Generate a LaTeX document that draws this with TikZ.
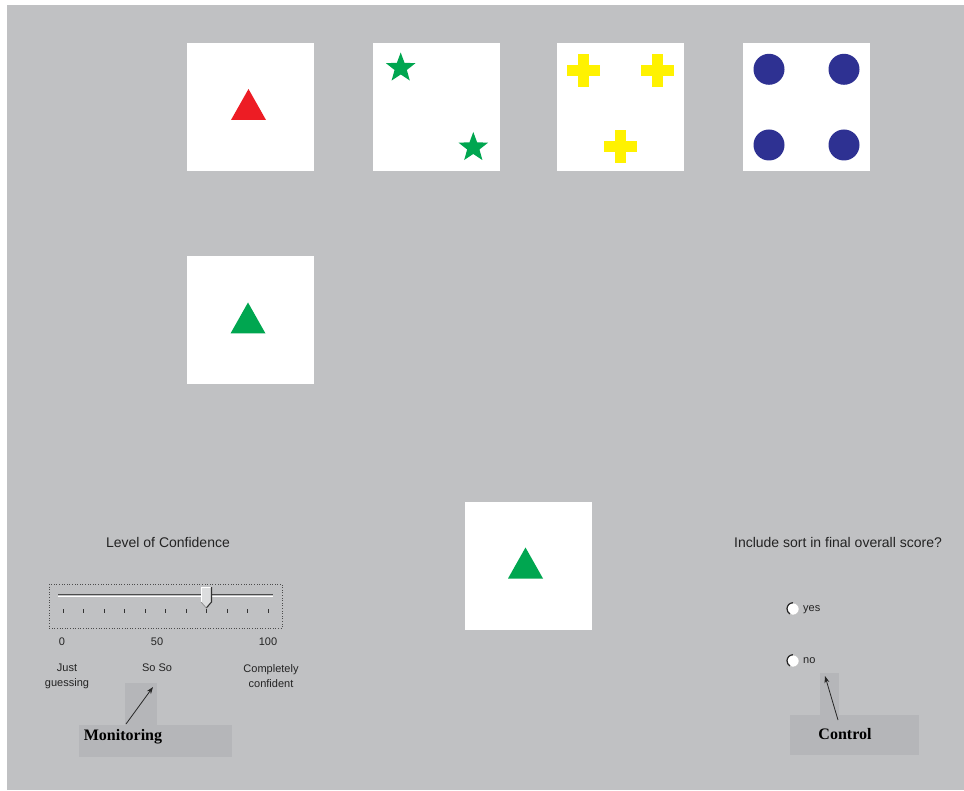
\documentclass[tikz,border=0pt]{standalone}
\usepackage{fontspec}
\setmainfont{Liberation Sans}
\newfontfamily\boldserif{Liberation Serif}
\usetikzlibrary{shapes.geometric,arrows.meta}
\definecolor{bggray}{RGB}{192,193,195}
\definecolor{hlgray}{RGB}{181,182,185}
\definecolor{cardred}{RGB}{237,28,36}
\definecolor{cardgreen}{RGB}{0,166,80}
\definecolor{cardyellow}{RGB}{255,242,0}
\definecolor{cardblue}{RGB}{46,49,146}
\definecolor{txtgray}{RGB}{35,35,35}
\tikzset{
  card/.style={rectangle,fill=white,draw=none,minimum width=127pt,minimum height=128pt,inner sep=0pt},
  starshape/.style={star,star points=5,star point ratio=2.4,fill=cardgreen,draw=none,minimum size=31pt,inner sep=0pt},
  dotshape/.style={circle,fill=cardblue,draw=none,minimum size=31pt,inner sep=0pt},
  lbl/.style={font=\fontsize{14}{16}\selectfont,text=txtgray,inner sep=0pt},
  small/.style={font=\fontsize{11}{15}\selectfont,text=txtgray,inner sep=0pt,align=center},
  hlbox/.style={fill=hlgray,draw=none},
  radio/.style={circle,fill=white,draw=black!25,line width=0.5pt,minimum size=12pt,inner sep=0pt},
  callout/.style={font=\boldserif\bfseries\fontsize{16}{18}\selectfont,text=black,inner sep=0pt},
  pointer/.style={-{Stealth[length=7pt,width=5pt]},line width=0.8pt,draw=black!85},
}
\newcommand{\mycross}[2]{%
  \fill[cardyellow] (#1-16.5,#2-5.5) rectangle (#1+16.5,#2+5.5);
  \fill[cardyellow] (#1-5.5,#2-16.5) rectangle (#1+5.5,#2+16.5);}
\newcommand{\mytri}[3]{%
  \fill[#3] (#1-17.5,#2+15.5) -- (#1,#2-15.5) -- (#1+17.5,#2+15.5) -- cycle;}
\begin{document}
\begin{tikzpicture}[x=1pt,y=-1pt]
\useasboundingbox (0,0) rectangle (964,791);
\fill[white] (0,0) rectangle (964,791);
\fill[bggray] (7,5) rectangle (964,790);

% cards
\node[card] (c1) at (250,107) {};
\node[card] (c2) at (436,107) {};
\node[card] (c3) at (620,107) {};
\node[card] (c4) at (806,107) {};
\node[card] (c5) at (250,320) {};
\node[card] (c6) at (528,566) {};

% card contents
\mytri{248.5}{104.5}{cardred}
\node[starshape] (s1) at (400.7,68) {};
\node[starshape] (s2) at (473.3,147.5) {};
\mycross{583.3}{71}
\mycross{657.7}{71}
\mycross{620}{146.7}
\node[dotshape] (d1) at (769,69.3) {};
\node[dotshape] (d2) at (844,69.3) {};
\node[dotshape] (d3) at (769,145) {};
\node[dotshape] (d4) at (844,145) {};
\mytri{248}{318}{cardgreen}
\mytri{525.5}{563}{cardgreen}

% highlight boxes
\fill[hlgray] (125,683) rectangle (157,726);
\fill[hlgray] (79,725) rectangle (232,757);
\fill[hlgray] (820,673) rectangle (839,716);
\fill[hlgray] (790,715) rectangle (919,755);

% slider
\node[lbl] (loc) at (168,542) {Level of Confidence};
\draw[black!70,dotted,line width=0.6pt] (49,584) rectangle (282,628);
\draw[black!70,line width=1.4pt] (58,594.3) -- (273,594.3);
\draw[white,line width=1.2pt] (58,596.3) -- (273,596.3);
\foreach \i in {0,...,10}{
  \draw[black!80,line width=0.9pt] (63.3+20.5*\i,609) -- (63.3+20.5*\i,612.5);
}
\fill[bggray!55!white] (201,587) -- (211.5,587) -- (211.5,602) -- (206.3,608) -- (201,602) -- cycle;
\draw[white,line width=1pt] (201,602) -- (201,587) -- (211,587);
\draw[black!80,line width=1.1pt] (211.5,587) -- (211.5,602) -- (206.3,608);
\draw[black!45,line width=0.7pt] (206.3,608) -- (201,602);

\node[small] (n0) at (62,642) {0};
\node[small] (n50) at (157,642) {50};
\node[small] (n100) at (268,642) {100};
\node[small] (just) at (67,676) {Just\\guessing};
\node[small] (soso) at (157,668) {So So};
\node[small] (compl) at (271,676) {Completely\\confident};

% question
\node[lbl] (q) at (838,542) {Include sort in final overall score?};
\node[radio] (ryes) at (793,609) {};
\node[radio] (rno) at (793,661) {};
\draw[black!85,line width=1.2pt] (ryes.north) arc[start angle=90,end angle=240,radius=6pt];
\draw[black!85,line width=1.2pt] (rno.north) arc[start angle=90,end angle=240,radius=6pt];
\node[small,anchor=west] (tyes) at (803,610) {yes};
\node[small,anchor=west] (tno) at (803,661) {no};

% callouts
\node[callout] (mon) at (123,737) {Monitoring};
\node[callout] (ctl) at (845,734) {Control};
\coordinate (montip) at (153,687);
\coordinate (monfoot) at (126,724);
\coordinate (ctltip) at (825,676);
\coordinate (ctlfoot) at (838,720);
\draw[pointer] (monfoot) -- (montip);
\draw[pointer] (ctlfoot) -- (ctltip);
\end{tikzpicture}
\end{document}
